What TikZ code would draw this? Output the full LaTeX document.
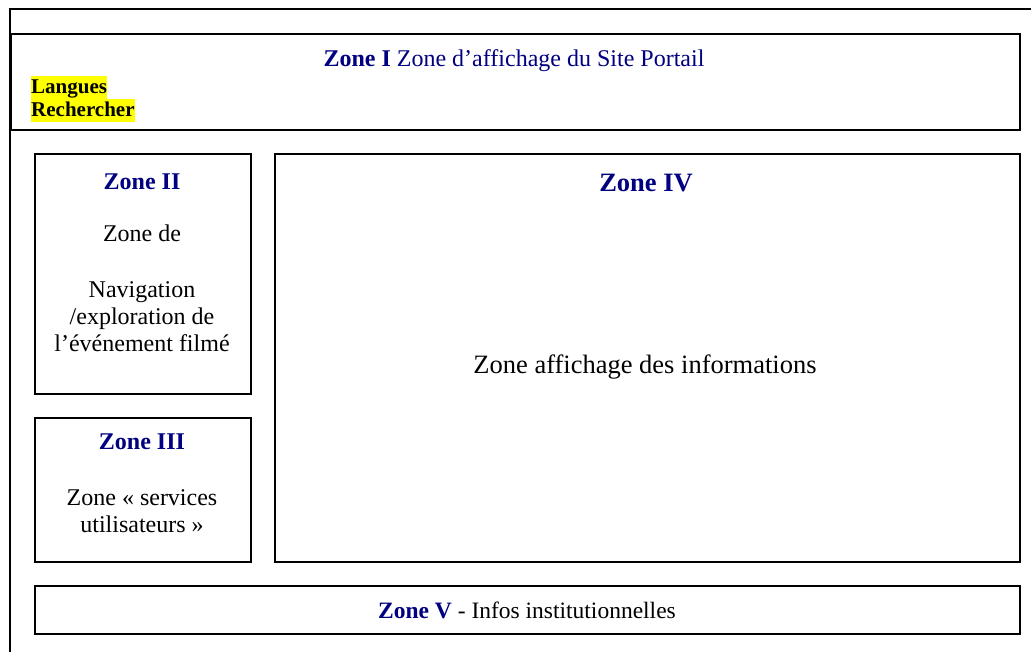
\documentclass[tikz,border=0pt]{standalone}
\usepackage{fontspec}
\setmainfont{Liberation Serif}
\definecolor{zonenavy}{RGB}{0,0,128}
\definecolor{hlyellow}{RGB}{255,255,0}
\tikzset{
  zonebox/.style={draw=black, line width=1.5pt},
  zt/.style={font=\fontsize{24}{27}\selectfont\bfseries, text=zonenavy, anchor=base, inner sep=0pt},
  bodytxt/.style={font=\fontsize{24}{27}\selectfont, text=black, anchor=base, inner sep=0pt},
  bigtxt/.style={font=\fontsize{26.5}{30}\selectfont, text=black, anchor=base, inner sep=0pt},
  hl/.style={fill=hlyellow, font=\fontsize{21}{23}\selectfont\bfseries, anchor=base west, inner sep=0pt, text height=17pt, text depth=6pt}
}
\begin{document}
\begin{tikzpicture}[x=1pt,y=-1pt]
\useasboundingbox (0,0) rectangle (1031,651);
\clip (0,0) rectangle (1031,651);
\fill[white] (0,0) rectangle (1031,651);
% outer frame (extends beyond the picture on the right and bottom)
\draw[zonebox] (10,9) rectangle (1045,670);
% Zone I
\node[zonebox, anchor=north west, minimum width=1009pt, minimum height=96pt, inner sep=0pt] (z1) at (10,33) {};
\node[anchor=base, inner sep=0pt, text=zonenavy, font=\fontsize{24}{27}\selectfont] (z1t) at (514,66) {\textbf{Zone I} Zone d’affichage du Site Portail};
\node[hl] (lang) at (31,93) {Langues};
\node[hl] (rech) at (31,116) {Rechercher};
% Zone II
\node[zonebox, anchor=north west, minimum width=216pt, minimum height=240pt, inner sep=0pt] (z2) at (34,153) {};
\node[zt] (z2t) at (142,189) {Zone II};
\node[bodytxt] (z2a) at (142,241) {Zone de};
\node[bodytxt] (z2b) at (142,297) {Navigation};
\node[bodytxt] (z2c) at (142,324) {/exploration de};
\node[bodytxt] (z2d) at (142,351) {l’événement filmé};
% Zone III
\node[zonebox, anchor=north west, minimum width=216pt, minimum height=144pt, inner sep=0pt] (z3) at (34,417) {};
\node[zt] (z3t) at (142,449) {Zone III};
\node[bodytxt] (z3a) at (142,505) {Zone « services};
\node[bodytxt] (z3b) at (142,532) {utilisateurs »};
% Zone IV
\node[zonebox, anchor=north west, minimum width=745pt, minimum height=408pt, inner sep=0pt] (z4) at (274,153) {};
\node[zt, font=\fontsize{26.5}{30}\selectfont\bfseries] (z4t) at (646,191) {Zone IV};
\node[bigtxt] (z4a) at (645,373) {Zone affichage des informations};
% Zone V
\node[zonebox, anchor=north west, minimum width=985pt, minimum height=48pt, inner sep=0pt] (z5) at (34,585) {};
\node[anchor=base, inner sep=0pt, font=\fontsize{23.5}{27}\selectfont] (z5t) at (527,618) {\textcolor{zonenavy}{\textbf{Zone V}} - Infos institutionnelles};
\end{tikzpicture}
\end{document}
